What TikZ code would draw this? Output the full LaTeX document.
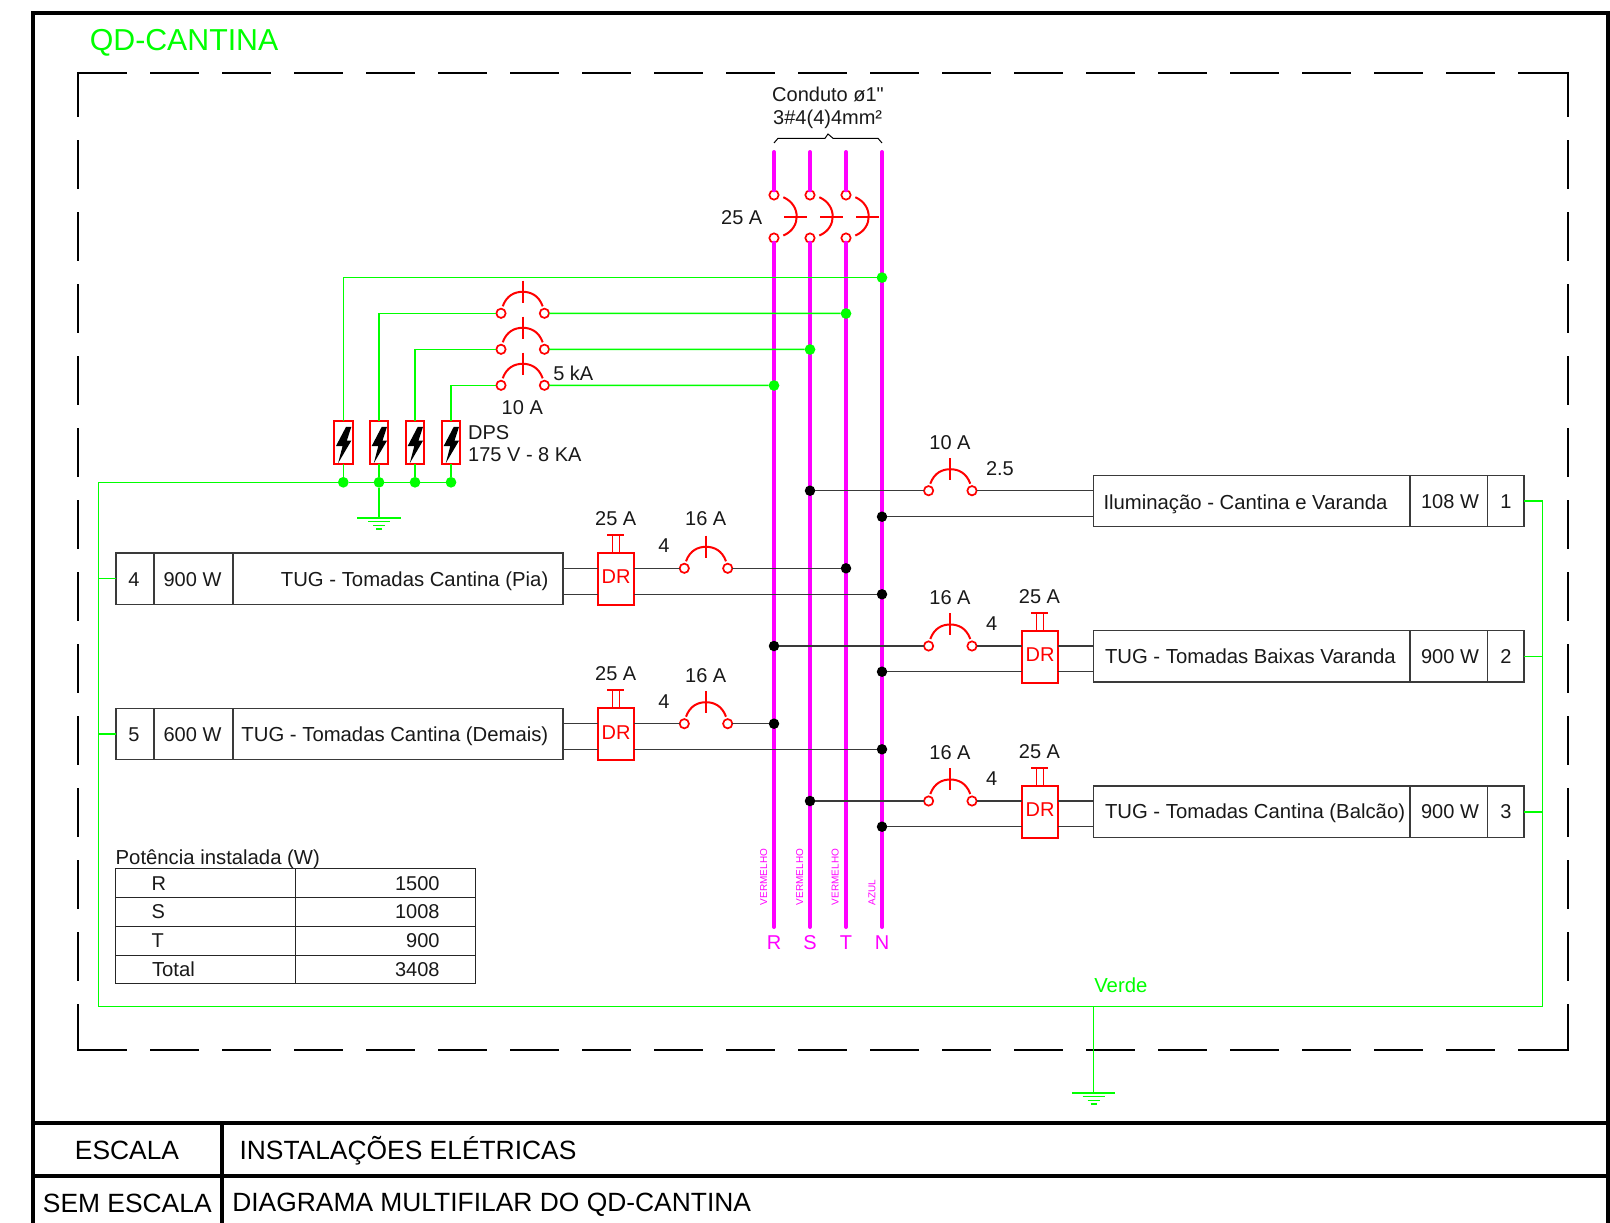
\documentclass[tikz,border=0pt]{standalone}
\usepackage{fontspec}
\setmainfont{Liberation Sans}
\newfontfamily\rawsans{Liberation Sans}
\usetikzlibrary{calc}
\definecolor{mag}{HTML}{FF00FF}
\definecolor{grn}{HTML}{00FF00}
\definecolor{wire}{HTML}{3A3A3A}
\tikzset{
  txt/.style={inner sep=0,outer sep=0,font=\fontsize{20}{24}\selectfont,text=black!90},
  boxtxt/.style={inner sep=0,outer sep=0,font=\fontsize{20.3}{24}\selectfont,text=black!90},
  big/.style={inner sep=0,outer sep=0,font=\fontsize{26.4}{30}\selectfont,text=black},
  tiny/.style={inner sep=0,outer sep=0,font=\fontsize{10}{12}\selectfont,text=mag,rotate=90},
  busline/.style={draw=mag,line width=4pt,line cap=round},
  wireline/.style={draw=wire,line width=1.4pt},
  greenline/.style={draw=grn,line width=1.5pt},
  redline/.style={draw=red,line width=2pt},
  frameline/.style={draw=black,line width=4pt},
  dashline/.style={draw=black,line width=2pt,dash pattern=on 49pt off 23pt},
  dashv/.style={dashline,dash phase=4pt},
  tableline/.style={draw=black!85,line width=1.3pt},
  cell/.style={draw=wire,line width=1.4pt,rectangle,inner sep=0,outer sep=0},
  term/.style={circle,draw=red,line width=1.7pt,fill=white,minimum size=9.3pt,inner sep=0,outer sep=0},
  blackdot/.style={circle,fill=black,minimum size=10.5pt,inner sep=0,outer sep=0},
  greendot/.style={circle,fill=grn,minimum size=10.7pt,inner sep=0,outer sep=0},
  hcb/.pic={
    \node[term] (-l) at (-21.7,0) {};
    \node[term] (-r) at (21.7,0) {};
    \draw[redline] (-20,-7) .. controls (-16,-18) and (-8,-21.5) .. (0,-21.5)
       .. controls (8,-21.5) and (16,-18) .. (20,-7);
    \draw[redline] (0,-32.6) -- (0,-10.6);
  },
  vcb/.pic={
    \node[term] (-t) at (0,-21.5) {};
    \node[term] (-b) at (0,21.5) {};
    \draw[redline] (9.3,-19.3) .. controls (19,-15) and (22.7,-7) .. (22.7,0)
       .. controls (22.7,7) and (19,15) .. (9.3,19);
    \draw[redline] (10,0) -- (33,0);
  },
  drunit/.pic={
    \node[cell,draw=red,line width=2pt,fill=white,minimum width=36pt,minimum height=52pt] (-b) at (0,0) {};
    \node[txt,text=red,anchor=base] (-t) at (0,5) {DR};
    \draw[draw=red,line width=1.5pt] (-3.6,-26) -- (-3.6,-43.5) (3.7,-26) -- (3.7,-43.5);
    \draw[redline] (-8.8,-43.7) -- (8.2,-43.7);
  },
  dpsunit/.pic={
    \node[cell,draw=red,line width=2pt,minimum width=18.5pt,minimum height=43.6pt] (-b) at (0,21.8) {};
    \fill[black] (2.7,6.2) -- (8,6.2) -- (3.5,20) -- (8,20) -- (-5.2,42.5) -- (-0.7,25.3) -- (-7.3,25.3) -- cycle;
  },
  gndunit/.pic={
    \coordinate (-t) at (0,0);
    \draw[greenline] (-21.7,0) -- (21.7,0) (-11,3.7) -- (11,3.7) (-6,7.4) -- (6,7.4) (-3,11) -- (3,11);
  }
}
\begin{document}
\begin{tikzpicture}[x=1pt,y=-1pt]
\useasboundingbox (0,0) rectangle (1610,1223);
\fill[white] (0,0) rectangle (1610,1223);

% outer frame and title block
\draw[frameline] (33.3,1223) -- (33.3,13) -- (1607.5,13) -- (1607.5,1223);
\draw[frameline] (33.3,1123.3) -- (1607.5,1123.3);
\draw[frameline] (33.3,1176.3) -- (1607.5,1176.3);
\draw[frameline] (222.3,1123.3) -- (222.3,1223);
\node[big,anchor=base] (tEsc) at (127,1159.5) {ESCALA};
\node[big,anchor=base] (tSem) at (127.3,1212) {SEM ESCALA};
\node[big,anchor=base west] (tInst) at (239.5,1159.5) {INSTALAÇÕES ELÉTRICAS};
\node[big,anchor=base west] (tDiag) at (232.3,1211) {DIAGRAMA MULTIFILAR DO QD-CANTINA};
\node[inner sep=0,outer sep=0,font=\fontsize{30.3}{34}\selectfont,text=grn,anchor=base west] (tQD) at (89.8,51) {QD-CANTINA};

% dashed enclosure
\draw[dashline] (78.3,72.7) -- (1568.3,72.7);
\draw[dashline] (78.3,1049.7) -- (1568.3,1049.7);
\draw[dashv] (78.3,72) -- (78.3,1050.5);
\draw[dashv] (1567.7,72) -- (1567.7,1050.5);

% bus bars
\coordinate (Rtop) at (774,152);
\coordinate (Stop) at (810,152);
\coordinate (Ttop) at (846,152);
\coordinate (Ntop) at (882,152);
\coordinate (Rbot) at (774,927);
\coordinate (Sbot) at (810,927);
\coordinate (Tbot) at (846,927);
\coordinate (Nbot) at (882,927);
\pic (mR) at (774,216.5) {vcb};
\pic (mS) at (810,216.5) {vcb};
\pic (mT) at (846,216.5) {vcb};
\draw[busline] (Rtop) -- (mR-t);
\draw[busline] (mR-b) -- (Rbot);
\draw[busline] (Stop) -- (mS-t);
\draw[busline] (mS-b) -- (Sbot);
\draw[busline] (Ttop) -- (mT-t);
\draw[busline] (mT-b) -- (Tbot);
\draw[busline] (Ntop) -- (Nbot);

% conduit brace
\draw[draw=black,line width=1pt] (774,143) -- (778,138.3) -- (825,138.3) -- (828,134) -- (833,138.3) -- (878,138.3) -- (882,143);
\node[txt,anchor=base] (tC1) at (828,101.5) {Conduto ø1{\rawsans"}};
\node[txt,anchor=base] (tC2) at (827.7,124.7) {3\#4(4)4mm²};
\node[txt,anchor=base] (t25m) at (741.7,224) {25 A};

% phase labels
\node[tiny,anchor=base west] (vR) at (767,905) {VERMELHO};
\node[tiny,anchor=base west] (vS) at (803,905) {VERMELHO};
\node[tiny,anchor=base west] (vT) at (838.7,905) {VERMELHO};
\node[tiny,anchor=base west] (vN) at (875.3,905) {AZUL};
\node[txt,text=mag,anchor=base] (lR) at (774,949) {R};
\node[txt,text=mag,anchor=base] (lS) at (810,949) {S};
\node[txt,text=mag,anchor=base] (lT) at (846,949) {T};
\node[txt,text=mag,anchor=base] (lN) at (882,949) {N};

% DPS branch
\pic (dps1) at (343.3,420.7) {dpsunit};
\pic (dps2) at (379,420.7) {dpsunit};
\pic (dps3) at (415,420.7) {dpsunit};
\pic (dps4) at (451,420.7) {dpsunit};
\pic (cbA) at (522.7,313.3) {hcb};
\pic (cbB) at (522.7,349.3) {hcb};
\pic (cbC) at (522.7,385.3) {hcb};
\node[greendot] (gN) at (882,277.6) {};
\node[greendot] (gT) at (846,313.5) {};
\node[greendot] (gS) at (810,349.5) {};
\node[greendot] (gR) at (774,385.5) {};
\node[greendot] (g1) at (343.3,482.3) {};
\node[greendot] (g2) at (379,482.3) {};
\node[greendot] (g3) at (415,482.3) {};
\node[greendot] (g4) at (451,482.3) {};
\draw[greenline] (dps1-b.north) |- (gN);
\draw[greenline] (dps2-b.north) |- (cbA-l);
\draw[greenline] (cbA-r) -- (gT);
\draw[greenline] (dps3-b.north) |- (cbB-l);
\draw[greenline] (cbB-r) -- (gS);
\draw[greenline] (dps4-b.north) |- (cbC-l);
\draw[greenline] (cbC-r) -- (gR);
\draw[greenline] (dps1-b.south) -- (g1);
\draw[greenline] (dps2-b.south) -- (g2);
\draw[greenline] (dps3-b.south) -- (g3);
\draw[greenline] (dps4-b.south) -- (g4);
\draw[greenline] (g1) -- (g2);
\draw[greenline] (g2) -- (g3);
\draw[greenline] (g3) -- (g4);
\pic (gndA) at (379,518) {gndunit};
\draw[greenline] (g2) -- (gndA-t);
\node[txt,anchor=base west] (t5k) at (553.3,380) {5 kA};
\node[txt,anchor=base] (t10d) at (522.3,414) {10 A};
\node[txt,anchor=base west] (tD1) at (468.2,439) {DPS};
\node[txt,anchor=base west] (tD2) at (468.2,461) {175 V - 8 KA};

% load boxes
\node[cell,minimum width=430.7pt,minimum height=51.5pt] (B1) at (1308.65,501) {};
\node[cell,minimum width=430.7pt,minimum height=51.5pt] (B2) at (1308.65,656.4) {};
\node[cell,minimum width=430.7pt,minimum height=51.5pt] (B3) at (1308.65,811.8) {};
\node[cell,minimum width=447pt,minimum height=51.5pt] (B4) at (339.5,578.7) {};
\node[cell,minimum width=447pt,minimum height=51.5pt] (B5) at (339.5,734) {};
\foreach \b in {B1,B2,B3}{
  \draw[wireline] (\b.north west) ++(316.7,0) -- ++(0,51.5);
  \draw[wireline] (\b.north west) ++(394.2,0) -- ++(0,51.5);
}
\foreach \b in {B4,B5}{
  \draw[wireline] (\b.north west) ++(38,0) -- ++(0,51.5);
  \draw[wireline] (\b.north west) ++(117,0) -- ++(0,51.5);
}
\node[boxtxt,anchor=base west] (x1) at (1103.5,509.3) {Iluminação - Cantina e Varanda};
\node[txt,anchor=base] (w1) at (1450,508) {108 W};
\node[txt,anchor=base] (n1) at (1506,508) {1};
\node[boxtxt,anchor=base west] (x2) at (1105,663) {TUG - Tomadas Baixas Varanda};
\node[txt,anchor=base] (w2) at (1450,663) {900 W};
\node[txt,anchor=base] (n2) at (1506,663) {2};
\node[boxtxt,anchor=base west] (x3) at (1105,818.5) {TUG - Tomadas Cantina (Balcão)};
\node[txt,anchor=base] (w3) at (1450,818) {900 W};
\node[txt,anchor=base] (n3) at (1506,818) {3};
\node[boxtxt,anchor=base east] (x4) at (548.3,586) {TUG - Tomadas Cantina (Pia)};
\node[txt,anchor=base] (w4) at (192.5,586) {900 W};
\node[txt,anchor=base] (n4) at (134,586) {4};
\node[boxtxt,anchor=base east] (x5) at (548.3,741) {TUG - Tomadas Cantina (Demais)};
\node[txt,anchor=base] (w5) at (192.5,741) {600 W};
\node[txt,anchor=base] (n5) at (134,741) {5};

% black junctions
\node[blackdot] (jS1) at (810,490.7) {};
\node[blackdot] (jN1) at (882,516.7) {};
\node[blackdot] (jR2) at (774,646) {};
\node[blackdot] (jN2) at (882,671.7) {};
\node[blackdot] (jS3) at (810,801) {};
\node[blackdot] (jN3) at (882,826.7) {};
\node[blackdot] (jT4) at (846,568.3) {};
\node[blackdot] (jN4) at (882,594.3) {};
\node[blackdot] (jR5) at (774,723.7) {};
\node[blackdot] (jN5) at (882,749.3) {};

% breakers and DR units of the circuits
\pic (cb1) at (950.3,490.7) {hcb};
\pic (cb2) at (950.3,646) {hcb};
\pic (cb3) at (950.3,801) {hcb};
\pic (cb4) at (706,568.3) {hcb};
\pic (cb5) at (706,723.7) {hcb};
\pic (dr2) at (1040,656.7) {drunit};
\pic (dr3) at (1040,811.9) {drunit};
\pic (dr4) at (616,578.7) {drunit};
\pic (dr5) at (616,734) {drunit};

% circuit 1
\draw[wireline] (jS1) -- (cb1-l);
\draw[wireline] (cb1-r) -- (B1.west |- cb1-r);
\draw[wireline] (jN1) -- (B1.west |- jN1);
% circuit 2
\draw[wireline] (jR2) -- (cb2-l);
\draw[wireline] (cb2-r) -- (dr2-b.west |- cb2-r);
\draw[wireline] (dr2-b.east |- cb2-r) -- (B2.west |- cb2-r);
\draw[wireline] (jN2) -- (dr2-b.west |- jN2);
\draw[wireline] (dr2-b.east |- jN2) -- (B2.west |- jN2);
% circuit 3
\draw[wireline] (jS3) -- (cb3-l);
\draw[wireline] (cb3-r) -- (dr3-b.west |- cb3-r);
\draw[wireline] (dr3-b.east |- cb3-r) -- (B3.west |- cb3-r);
\draw[wireline] (jN3) -- (dr3-b.west |- jN3);
\draw[wireline] (dr3-b.east |- jN3) -- (B3.west |- jN3);
% circuit 4
\draw[wireline] (B4.east |- jT4) -- (dr4-b.west |- jT4);
\draw[wireline] (dr4-b.east |- jT4) -- (cb4-l);
\draw[wireline] (cb4-r) -- (jT4);
\draw[wireline] (B4.east |- jN4) -- (dr4-b.west |- jN4);
\draw[wireline] (dr4-b.east |- jN4) -- (jN4);
% circuit 5
\draw[wireline] (B5.east |- jR5) -- (dr5-b.west |- jR5);
\draw[wireline] (dr5-b.east |- jR5) -- (cb5-l);
\draw[wireline] (cb5-r) -- (jR5);
\draw[wireline] (B5.east |- jN5) -- (dr5-b.west |- jN5);
\draw[wireline] (dr5-b.east |- jN5) -- (jN5);

% circuit labels
\node[txt,anchor=base] (a1) at (950,449.3) {10 A};
\node[txt,anchor=base west] (s1) at (986,475) {2.5};
\node[txt,anchor=base] (a2) at (950,604) {16 A};
\node[txt,anchor=base] (d2) at (1039.5,603) {25 A};
\node[txt,anchor=base] (s2) at (991.7,630) {4};
\node[txt,anchor=base] (a3) at (950,759) {16 A};
\node[txt,anchor=base] (d3) at (1039.5,758.3) {25 A};
\node[txt,anchor=base] (s3) at (991.7,785.3) {4};
\node[txt,anchor=base] (a4) at (705.7,525.5) {16 A};
\node[txt,anchor=base] (d4) at (615.7,525) {25 A};
\node[txt,anchor=base] (s4) at (664,552.7) {4};
\node[txt,anchor=base] (a5) at (705.7,682) {16 A};
\node[txt,anchor=base] (d5) at (615.7,680) {25 A};
\node[txt,anchor=base] (s5) at (664,708) {4};

% earth bus
\coordinate (cTR) at (1542.3,501);
\coordinate (cBR) at (1542.3,1006.7);
\coordinate (cBL) at (98.3,1006.7);
\coordinate (cTL) at (98.3,482.3);
\draw[greenline,line join=miter] (B1.east) -- (cTR) -- (cBR) -- (cBL) -- (cTL) -- (g1);
\draw[greenline] (B2.east) -- (B2.east -| cTR);
\draw[greenline] (B3.east) -- (B3.east -| cTR);
\draw[greenline] (B4.west) -- (B4.west -| cTL);
\draw[greenline] (B5.west) -- (B5.west -| cTL);
\coordinate (cG) at (1093.6,1006.7);
\pic (gndB) at (1093.6,1093) {gndunit};
\draw[greenline] (cG) -- (gndB-t);
\node[boxtxt,text=grn,anchor=base west] (tV) at (1094.3,992.3) {Verde};

% power table
\node[boxtxt,anchor=base west] (tP) at (115.7,864.3) {Potência instalada (W)};
\draw[tableline] (115.7,868.7) rectangle (475.3,983.7);
\draw[tableline] (295.3,868.7) -- (295.3,983.7);
\draw[tableline] (115.7,897.7) -- (475.3,897.7);
\draw[tableline] (115.7,926.3) -- (475.3,926.3);
\draw[tableline] (115.7,955.3) -- (475.3,955.3);
\node[txt,anchor=base west] (pR) at (151.7,890) {R};
\node[txt,anchor=base west] (pS) at (151.7,918.7) {S};
\node[txt,anchor=base west] (pT) at (151.7,947.7) {T};
\node[boxtxt,anchor=base west] (pTot) at (152,976) {Total};
\node[txt,anchor=base east] (vRn) at (439.5,890) {1500};
\node[txt,anchor=base east] (vSn) at (439.5,918.7) {1008};
\node[txt,anchor=base east] (vTn) at (439.5,947.7) {900};
\node[txt,anchor=base east] (vTot) at (439.5,976) {3408};
\end{tikzpicture}
\end{document}
